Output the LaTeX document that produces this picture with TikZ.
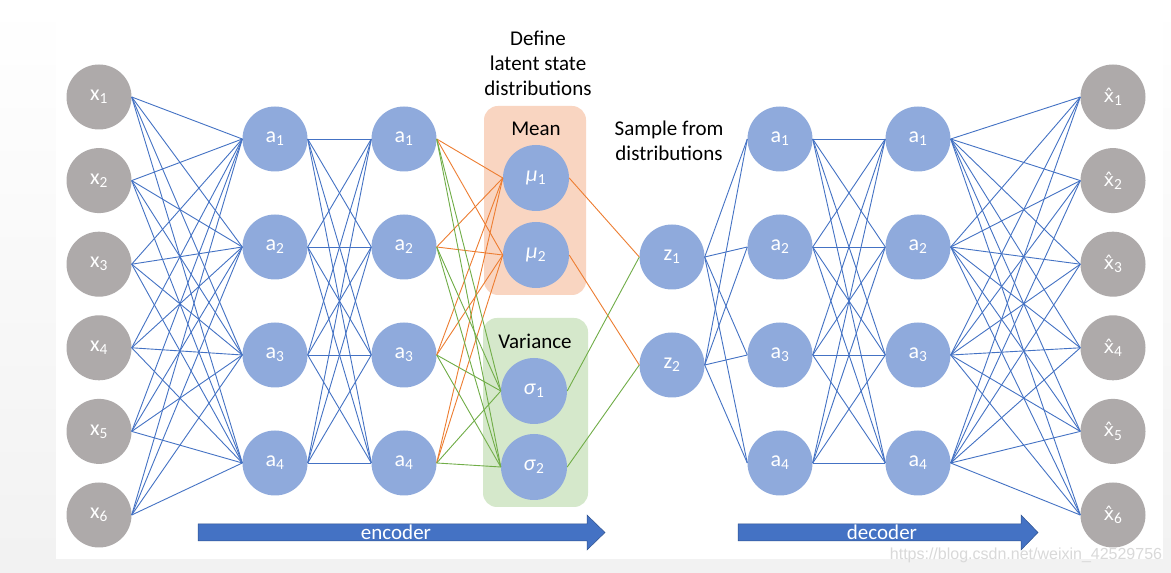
\documentclass[tikz,border=0pt]{standalone}
\usepackage{fontspec}
\setmainfont{Carlito}
\newfontfamily\wmfont{Liberation Sans}
\newfontfamily\hatfont{DejaVu Sans}
\usetikzlibrary{positioning}

\definecolor{nodeblue}{HTML}{8FAADC}
\definecolor{nodegray}{HTML}{AEAAAA}
\definecolor{lineblue}{HTML}{4472C4}
\definecolor{lineorange}{HTML}{ED7D31}
\definecolor{linegreen}{HTML}{70AD47}
\definecolor{meanfill}{HTML}{F9D5C1}
\definecolor{varfill}{HTML}{D5E8CB}
\definecolor{arrowedge}{HTML}{2F528F}
\definecolor{bggray}{HTML}{F2F2F2}

% x with a hat on top
\newcommand{\xhat}{{\hatfont\fontsize{18}{22}\selectfont x^^^^0302}}

\tikzset{
  inp/.style={circle,fill=nodegray,minimum size=65pt,inner sep=0pt,
    text=white,font=\fontsize{22}{24}\selectfont},
  hid/.style={inp,fill=nodeblue},
  wire/.style={lineblue,line width=0.9pt},
  meanwire/.style={lineorange,line width=0.9pt},
  varwire/.style={linegreen,line width=0.9pt},
  latbox/.style={rounded corners=14pt,minimum width=102pt,minimum height=189pt},
  lbl/.style={font=\fontsize{21}{25}\selectfont,align=center},
  bigarrow/.style={fill=lineblue,draw=arrowedge,line width=0.5pt},
  arrowtext/.style={text=white,font=\fontsize{21}{24}\selectfont}
}

\begin{document}
\begin{tikzpicture}[x=1pt,y=1pt]
% background
\fill[bggray] (0,0) rectangle (1171,573);
\shade[top color=white,bottom color=bggray] (0,14) rectangle (56,573);
\shade[top color=white,bottom color=bggray] (1163,14) rectangle (1171,573);
\fill[white] (56,14) rectangle (1163,573);
\useasboundingbox (0,0) rectangle (1171,573);

% latent boxes
\node[latbox,fill=meanfill] (meanbox) at (535,372.5) {};
\node[latbox,fill=varfill,minimum width=105pt] (varbox) at (535.5,160.5) {};
\node[lbl] (meantxt) at (536,444) {Mean};
\node[lbl] (vartxt) at (535,232) {Variance};
\node[lbl] (define) at (538,510) {Define\\latent state\\distributions};
\node[lbl] (sample) at (669,432) {Sample from\\distributions};

% input layer
\node[inp] (x1) at (99,476) {x\textsubscript{1}};
\node[inp] (x2) [below of=x1,node distance=83.6pt] {x\textsubscript{2}};
\node[inp] (x3) [below of=x2,node distance=83.6pt] {x\textsubscript{3}};
\node[inp] (x4) [below of=x3,node distance=83.6pt] {x\textsubscript{4}};
\node[inp] (x5) [below of=x4,node distance=83.6pt] {x\textsubscript{5}};
\node[inp] (x6) [below of=x5,node distance=83.6pt] {x\textsubscript{6}};

% encoder layers
\node[hid] (e1) at (275,434) {a\textsubscript{1}};
\node[hid] (e2) [below of=e1,node distance=108pt] {a\textsubscript{2}};
\node[hid] (e3) [below of=e2,node distance=108pt] {a\textsubscript{3}};
\node[hid] (e4) [below of=e3,node distance=108pt] {a\textsubscript{4}};
\node[hid] (f1) [right of=e1,node distance=129pt] {a\textsubscript{1}};
\node[hid] (f2) [below of=f1,node distance=108pt] {a\textsubscript{2}};
\node[hid] (f3) [below of=f2,node distance=108pt] {a\textsubscript{3}};
\node[hid] (f4) [below of=f3,node distance=108pt] {a\textsubscript{4}};

% latent layer
\node[hid,minimum size=66pt] (mu1) at (536,395) {\textit{μ}\textsubscript{1}};
\node[hid,minimum size=66pt] (mu2) [below of=mu1,node distance=77pt] {\textit{μ}\textsubscript{2}};
\node[hid,minimum size=66pt] (sg1) at (534,182) {\textit{σ}\textsubscript{1}};
\node[hid,minimum size=66pt] (sg2) [below of=sg1,node distance=76pt] {\textit{σ}\textsubscript{2}};
\node[hid] (z1) at (672,316) {z\textsubscript{1}};
\node[hid] (z2) [below of=z1,node distance=108pt] {z\textsubscript{2}};

% decoder layers
\node[hid] (d1) at (780,434) {a\textsubscript{1}};
\node[hid] (d2) [below of=d1,node distance=108pt] {a\textsubscript{2}};
\node[hid] (d3) [below of=d2,node distance=108pt] {a\textsubscript{3}};
\node[hid] (d4) [below of=d3,node distance=108pt] {a\textsubscript{4}};
\node[hid] (g1) [right of=d1,node distance=138pt] {a\textsubscript{1}};
\node[hid] (g2) [below of=g1,node distance=108pt] {a\textsubscript{2}};
\node[hid] (g3) [below of=g2,node distance=108pt] {a\textsubscript{3}};
\node[hid] (g4) [below of=g3,node distance=108pt] {a\textsubscript{4}};

% output layer
\node[inp] (y1) at (1113,476) {\xhat\textsubscript{1}};
\node[inp] (y2) [below of=y1,node distance=83.6pt] {\xhat\textsubscript{2}};
\node[inp] (y3) [below of=y2,node distance=83.6pt] {\xhat\textsubscript{3}};
\node[inp] (y4) [below of=y3,node distance=83.6pt] {\xhat\textsubscript{4}};
\node[inp] (y5) [below of=y4,node distance=83.6pt] {\xhat\textsubscript{5}};
\node[inp] (y6) [below of=y5,node distance=83.6pt] {\xhat\textsubscript{6}};

% connections
\foreach \i in {1,...,6}
  \foreach \j in {1,...,4}
    \draw[wire] (x\i.east) -- (e\j.west);
\foreach \i in {1,...,4}
  \foreach \j in {1,...,4}
    \draw[wire] (e\i.east) -- (f\j.west);
\foreach \i in {1,...,4}
  \foreach \j in {1,2}
    \draw[meanwire] (f\i.east) -- (mu\j.west);
\foreach \i in {1,...,4}
  \foreach \j in {1,2}
    \draw[varwire] (f\i.east) -- (sg\j.west);
\draw[meanwire] (mu1.east) -- (z1.west);
\draw[meanwire] (mu2.east) -- (z2.west);
\draw[varwire] (sg1.east) -- (z1.west);
\draw[varwire] (sg2.east) -- (z2.west);
\foreach \i in {1,2}
  \foreach \j in {1,...,4}
    \draw[wire] (z\i.east) -- (d\j.west);
\foreach \i in {1,...,4}
  \foreach \j in {1,...,4}
    \draw[wire] (d\i.east) -- (g\j.west);
\foreach \i in {1,...,4}
  \foreach \j in {1,...,6}
    \draw[wire] (g\i.east) -- (y\j.west);

% encoder / decoder arrows
\draw[bigarrow] (198,49) -- (587,49) -- (587,58) -- (605,40.5)
  -- (587,23) -- (587,32) -- (198,32) -- cycle;
\draw[bigarrow] (738,49) -- (1021,49) -- (1021,58) -- (1038,40.5)
  -- (1021,23) -- (1021,32) -- (738,32) -- cycle;
\node[arrowtext] (enc) at (396,41) {encoder};
\node[arrowtext] (dec) at (882,41) {decoder};

% watermark
\node[text=black!15,font=\wmfont\fontsize{16}{18}\selectfont] (wm) at (1026,18) {https://blog.csdn.net/weixin\_42529756};
\end{tikzpicture}
\end{document}
